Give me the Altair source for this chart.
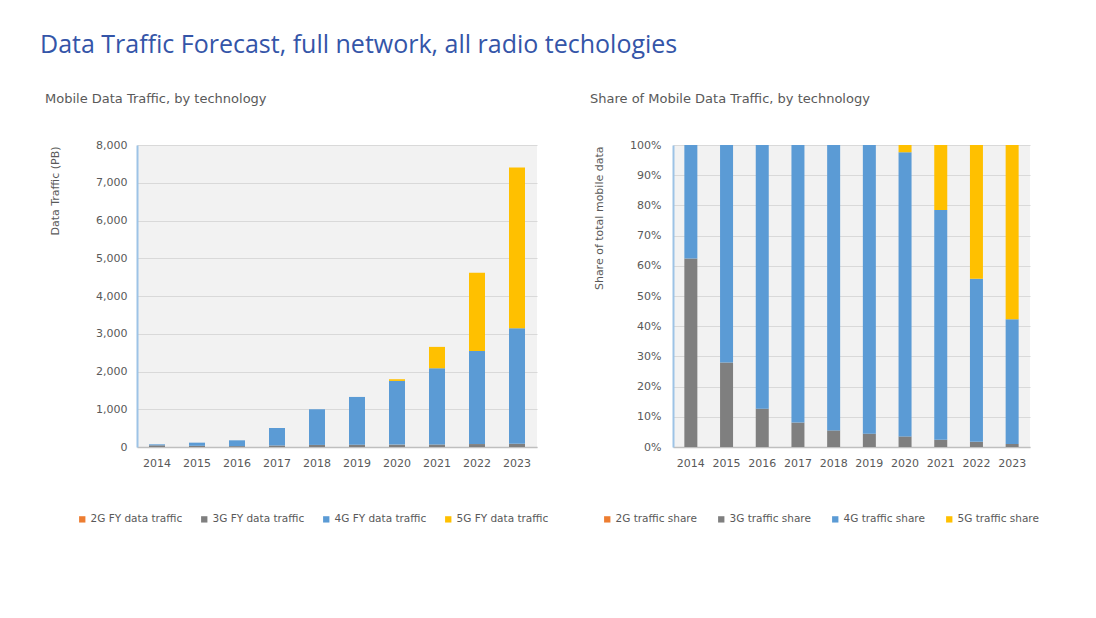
import altair as alt
import pandas as pd

years = ["2014", "2015", "2016", "2017", "2018", "2019", "2020", "2021", "2022", "2023"]

# Mobile data traffic (PB) by technology
traffic_2g = [0, 0, 0, 0, 0, 0, 0, 0, 0, 0]
traffic_3g = [44, 32, 23, 40, 55, 60, 63, 66, 78, 85]
traffic_4g = [26, 83, 154, 464, 945, 1266, 1687, 2020, 2468, 3062]
traffic_5g = [0, 0, 0, 0, 0, 0, 45, 566, 2068, 4259]

# Share of mobile data traffic by technology
share_2g = [0.0, 0.0, 0.0, 0.0, 0.0, 0.0, 0.0, 0.0, 0.0, 0.0]
share_3g = [0.624, 0.280, 0.127, 0.081, 0.055, 0.044, 0.035, 0.024, 0.017, 0.010]
share_4g = [0.376, 0.720, 0.873, 0.919, 0.945, 0.956, 0.941, 0.761, 0.540, 0.413]
share_5g = [0.0, 0.0, 0.0, 0.0, 0.0, 0.0, 0.024, 0.215, 0.443, 0.577]

traffic_labels = ["2G FY data traffic", "3G FY data traffic", "4G FY data traffic", "5G FY data traffic"]
share_labels = ["2G traffic share", "3G traffic share", "4G traffic share", "5G traffic share"]
tech_colors = ["#ed7d31", "#7f7f7f", "#5b9bd5", "#ffc000"]

def long_table(series_list, labels):
    rows = []
    for idx, (lab, vals) in enumerate(zip(labels, series_list)):
        for y, v in zip(years, vals):
            rows.append({"year": y, "series": lab, "value": v, "idx": idx})
    return pd.DataFrame(rows)

df_traffic = long_table([traffic_2g, traffic_3g, traffic_4g, traffic_5g], traffic_labels)
df_share = long_table([share_2g, share_3g, share_4g, share_5g], share_labels)

TXT = "#595959"
SMALL = "DejaVu Sans"
BIG = "Open Sans"

def legend(x, y, pad):
    return alt.Legend(
        orient="none", legendX=x, legendY=y, direction="horizontal", title=None,
        symbolType="square", symbolSize=40, symbolStrokeWidth=0, labelFontSize=10.5,
        labelColor=TXT, labelFont=SMALL, columnPadding=pad, labelOffset=3,
    )

def x_axis():
    return alt.Axis(labelAngle=0, ticks=False, domainColor="#bfbfbf", domainWidth=1.5,
                    labelPadding=10, labelColor=TXT, labelFontSize=11, labelFont=SMALL, grid=False)

def y_axis(values, fmt, title, tx, pad):
    return alt.Axis(values=values, format=fmt, ticks=False,
                    domainColor="#9dc3e6", domainWidth=2, gridColor="#d9d9d9",
                    labelColor=TXT, labelFontSize=11, labelFont=SMALL, labelPadding=pad,
                    title=title, titleX=tx, titleY=1, titleAngle=270,
                    titleAlign="right", titleBaseline="middle", titleFontSize=11,
                    titleFont=SMALL, titleFontWeight="normal", titleColor=TXT)

def sub_title(text, dx):
    return alt.TitleParams(text, anchor="start", frame="group", dx=dx, offset=33,
                           fontSize=13, color=TXT, fontWeight="normal", font=SMALL)

left = alt.Chart(df_traffic).mark_bar(size=16).encode(
    x=alt.X("year:N", title=None, sort=years, axis=x_axis()),
    y=alt.Y("value:Q", scale=alt.Scale(domain=[0, 8000], nice=False),
            axis=y_axis(list(range(0, 8001, 1000)), ",.0f", "Data Traffic (PB)", -82, 10)),
    color=alt.Color("series:N", scale=alt.Scale(domain=traffic_labels, range=tech_colors),
                    legend=legend(-60, 369, 16)),
    order=alt.Order("idx:Q", sort="ascending"),
).properties(width=400, height=302, title=sub_title("Mobile Data Traffic, by technology", -92))

right = alt.Chart(df_share).mark_bar(size=13).encode(
    x=alt.X("year:N", title=None, sort=years, axis=x_axis()),
    y=alt.Y("value:Q", stack="zero", scale=alt.Scale(domain=[0, 1], nice=False),
            axis=y_axis([i / 10 for i in range(11)], ".0%", "Share of total mobile data", -74, 12)),
    color=alt.Color("series:N", scale=alt.Scale(domain=share_labels, range=tech_colors),
                    legend=legend(-71, 369, 19)),
    order=alt.Order("idx:Q", sort="ascending"),
).properties(width=357, height=302,
             title=sub_title("Share of Mobile Data Traffic, by technology", -83))

chart = alt.hconcat(left, right, spacing=41).resolve_scale(color="independent").properties(
    title=alt.TitleParams("Data Traffic Forecast, full network, all radio techologies",
                          anchor="start", fontSize=25, color="#3455a8", fontWeight="normal",
                          font=BIG, offset=35, dx=-5),
    padding={"left": 32, "top": 25, "right": 5, "bottom": 5},
).configure(font=SMALL, background="white").configure_view(fill="#f2f2f2", strokeWidth=0)

chart.save("out.html", embed_options={"renderer": "svg", "actions": False})
